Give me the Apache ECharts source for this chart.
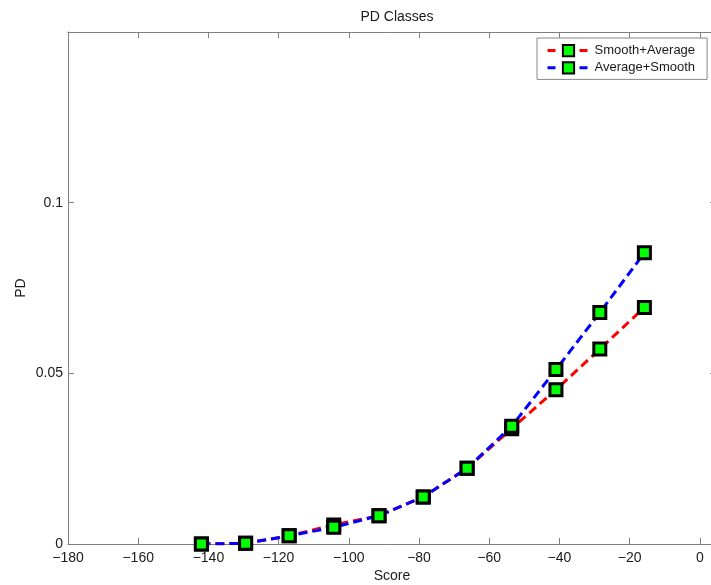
<!DOCTYPE html>
<html>
<head>
<meta charset="utf-8">
<script src="https://cdn.jsdelivr.net/npm/echarts@6/dist/echarts.min.js"></script>
<style>
html,body{margin:0;padding:0;background:#fff;}
#chart{width:711px;height:585px;}
</style>
</head>
<body>
<div id="chart"></div>
<script>
const scores = [-142, -129.4, -117, -104.3, -91.4, -78.8, -66.3, -53.6, -41, -28.5, -15.8];
const smoothAverage = [0.0000, 0.0002, 0.0024, 0.0056, 0.0083, 0.0138, 0.0222, 0.0338, 0.0452, 0.0571, 0.0693];
const averageSmooth = [0.0000, 0.0002, 0.0024, 0.0049, 0.0083, 0.0138, 0.0222, 0.0345, 0.0511, 0.0678, 0.0853];
const seriesNames = ['Smooth+Average', 'Average+Smooth'];
const titleText = 'PD Classes';
const xName = 'Score';
const yName = 'PD';

const FONT = '"Liberation Sans", Arial, Helvetica, sans-serif';
const axisGrey = '#7f7f7f';
const fmtX = v => (v < 0 ? '\u2212' + Math.abs(v) : String(v));
const fmtY = v => (v < 0 ? '\u2212' + Math.abs(v) : String(+v.toFixed(3)));

const chart = echarts.init(document.getElementById('chart'), null, {renderer: 'canvas'});

function mkSeries(name, ys, color, z) {
  return {
    name: name,
    type: 'line',
    data: scores.map((x, i) => [x, ys[i]]),
    symbol: 'rect',
    symbolSize: 12,
    z: z,
    lineStyle: {color: color, width: 3, type: [9, 5]},
    itemStyle: {color: '#00ff00', borderColor: '#000', borderWidth: 3},
    emphasis: {disabled: true},
    animation: false
  };
}

const lineAx = {show: true, onZero: false, lineStyle: {color: axisGrey, width: 1}};
const tickAx = {show: true, inside: true, length: 6, lineStyle: {color: axisGrey}};

chart.setOption({
  animation: false,
  backgroundColor: '#fff',
  title: {
    text: titleText,
    left: 392,
    textAlign: 'center',
    top: 5,
    textStyle: {fontFamily: FONT, fontSize: 14, fontWeight: 'normal', color: '#1a1a1a'}
  },
  legend: {
    data: seriesNames,
    orient: 'vertical',
    left: 537,
    top: 38,
    itemWidth: 42,
    itemHeight: 14,
    itemGap: 4,
    padding: [6, 12, 5, 9],
    backgroundColor: '#fff',
    borderColor: '#888',
    borderWidth: 1,
    borderRadius: 0,
    lineStyle: {type: [8, 8], width: 3},
    textStyle: {fontFamily: FONT, fontSize: 13, color: '#1a1a1a'}
  },
  grid: {left: 68, right: -5, top: 32, bottom: 41, containLabel: false, outerBoundsMode: 'none'},
  xAxis: [{
    type: 'value',
    min: -180, max: 4.6, interval: 20,
    name: xName, nameLocation: 'middle', nameGap: 25, nameMoveOverlap: false,
    nameTextStyle: {fontFamily: FONT, fontSize: 14, color: '#1a1a1a'},
    axisLine: lineAx,
    axisTick: tickAx,
    axisLabel: {fontFamily: FONT, fontSize: 14, color: '#1a1a1a', margin: 7, formatter: fmtX, showMaxLabel: false},
    splitLine: {show: false}
  }, {
    type: 'value', position: 'top',
    min: -180, max: 4.6, interval: 20,
    axisLine: lineAx,
    axisTick: tickAx,
    axisLabel: {show: false},
    splitLine: {show: false}
  }],
  yAxis: [{
    type: 'value',
    min: 0, max: 0.15, interval: 0.05,
    name: yName, nameLocation: 'middle', nameGap: 40, nameRotate: 90, nameMoveOverlap: false,
    nameTextStyle: {fontFamily: FONT, fontSize: 14, color: '#1a1a1a'},
    axisLine: lineAx,
    axisTick: tickAx,
    axisLabel: {fontFamily: FONT, fontSize: 14, color: '#1a1a1a', margin: 5, formatter: fmtY, showMaxLabel: false},
    splitLine: {show: false}
  }, {
    type: 'value', position: 'right',
    min: 0, max: 0.15, interval: 0.05,
    axisLine: lineAx,
    axisTick: tickAx,
    axisLabel: {show: false},
    splitLine: {show: false}
  }],
  series: [
    mkSeries(seriesNames[0], smoothAverage, '#ff0000', 2),
    mkSeries(seriesNames[1], averageSmooth, '#0000ff', 3)
  ]
});
</script>
</body>
</html>
